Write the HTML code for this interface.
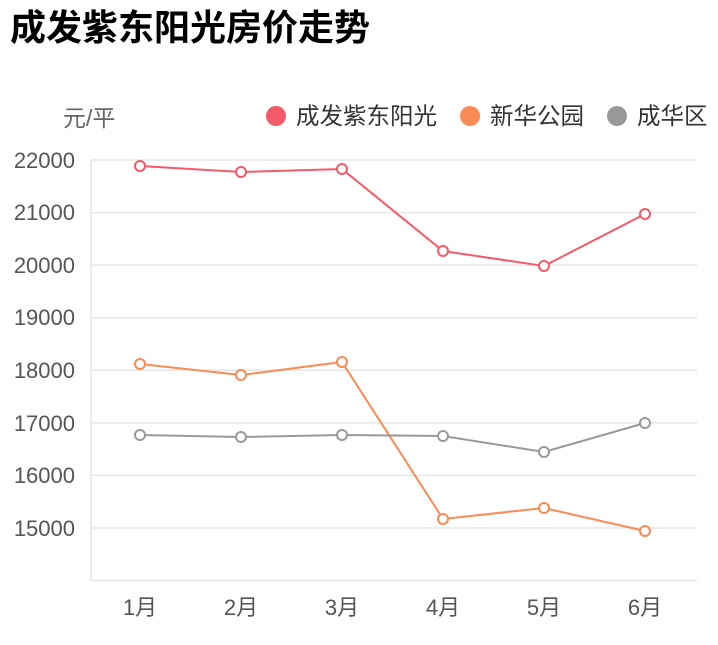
<!DOCTYPE html>
<html><head><meta charset="utf-8"><style>
body{margin:0;background:#fff;width:718px;height:640px;overflow:hidden}
text{font-family:"Liberation Sans","Noto Sans CJK SC",sans-serif}
</style></head><body>
<svg width="718" height="640" xmlns="http://www.w3.org/2000/svg">
<text x="10" y="40" font-size="36" font-weight="bold" fill="#000">成发紫东阳光房价走势</text>
<text x="63" y="126" font-size="23" fill="#666">元/平</text>
<circle cx="276" cy="116" r="10" fill="#f45b69"/><text x="296" y="124" font-size="23.5" fill="#333">成发紫东阳光</text>
<circle cx="470" cy="116" r="10" fill="#f98b55"/><text x="490" y="124" font-size="23.5" fill="#333">新华公园</text>
<circle cx="617" cy="116" r="10" fill="#999"/><text x="637" y="124" font-size="23.5" fill="#333">成华区</text>
<g stroke="#e6e6e6" stroke-width="1.5">
<line x1="91" y1="160" x2="697" y2="160"/><line x1="91" y1="212.6" x2="697" y2="212.6"/><line x1="91" y1="265.1" x2="697" y2="265.1"/><line x1="91" y1="317.7" x2="697" y2="317.7"/><line x1="91" y1="370.3" x2="697" y2="370.3"/><line x1="91" y1="422.9" x2="697" y2="422.9"/><line x1="91" y1="475.4" x2="697" y2="475.4"/><line x1="91" y1="528" x2="697" y2="528"/><line x1="91" y1="580.5" x2="697" y2="580.5"/>
<line x1="91" y1="160" x2="91" y2="580.5"/>
</g>
<g font-size="22" fill="#555" text-anchor="end">
<text x="75" y="168">22000</text><text x="75" y="220">21000</text><text x="75" y="273">20000</text><text x="75" y="325">19000</text><text x="75" y="378">18000</text><text x="75" y="431">17000</text><text x="75" y="483">16000</text><text x="75" y="536">15000</text>
</g>
<g font-size="22" fill="#555" text-anchor="middle">
<text x="140" y="615">1月</text><text x="241" y="615">2月</text><text x="342" y="615">3月</text><text x="443" y="615">4月</text><text x="544" y="615">5月</text><text x="645" y="615">6月</text>
</g>
<g fill="none" stroke-width="2">
<polyline stroke="#f45b69" points="140,166 241,172 342,169 443,251 544,266 645,214"/>
<polyline stroke="#f98b55" points="140,364 241,375 342,362 443,519 544,508 645,531"/>
<polyline stroke="#999" points="140,435 241,437 342,435 443,436 544,452 645,423"/>
</g>
<g fill="#fff" stroke-width="2">
<g stroke="#f45b69"><circle cx="140" cy="166" r="5"/><circle cx="241" cy="172" r="5"/><circle cx="342" cy="169" r="5"/><circle cx="443" cy="251" r="5"/><circle cx="544" cy="266" r="5"/><circle cx="645" cy="214" r="5"/></g>
<g stroke="#f98b55"><circle cx="140" cy="364" r="5"/><circle cx="241" cy="375" r="5"/><circle cx="342" cy="362" r="5"/><circle cx="443" cy="519" r="5"/><circle cx="544" cy="508" r="5"/><circle cx="645" cy="531" r="5"/></g>
<g stroke="#999"><circle cx="140" cy="435" r="5"/><circle cx="241" cy="437" r="5"/><circle cx="342" cy="435" r="5"/><circle cx="443" cy="436" r="5"/><circle cx="544" cy="452" r="5"/><circle cx="645" cy="423" r="5"/></g>
</g>
</svg>
</body></html>
